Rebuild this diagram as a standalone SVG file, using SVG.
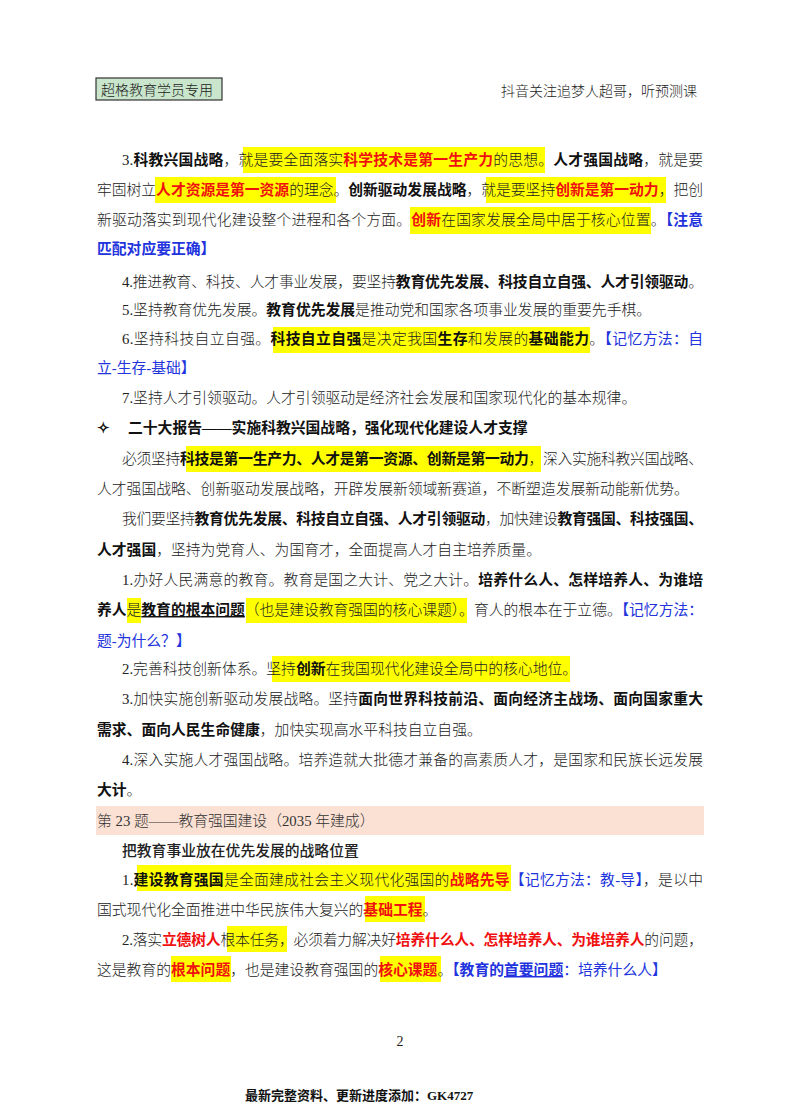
<svg xmlns="http://www.w3.org/2000/svg" width="800" height="1114" viewBox="0 0 800 1114">
<style>
text{font-family:"Liberation Serif","Noto Sans CJK SC",serif;font-size:14.8px;fill:#222;font-weight:300}
.b{font-weight:700;fill:#111}
.r{font-weight:700;fill:#f01010}
.bl{fill:#2233dd;font-weight:400}
.blb{fill:#2233dd;font-weight:700}
.u{text-decoration:underline}
.hl{fill:#ffff00}
</style>
<rect width="800" height="1114" fill="#fff"/>
<g id="header">
<rect x="96" y="78" width="126" height="22" fill="#c9e6cc" stroke="#333" stroke-width="1.2"/>
<text x="101" y="95" style="font-size:14px">超格教育学员专用</text>
<text x="697" y="96" text-anchor="end" style="font-size:14px">抖音关注追梦人超哥，听预测课</text>
</g>
<g id="highlights">
<rect class="hl" x="243" y="147" width="302" height="26"/>
<rect class="hl" x="155" y="177" width="181" height="26"/>
<rect class="hl" x="486" y="177" width="180" height="26"/>
<rect class="hl" x="410" y="207" width="241" height="27"/>
<rect class="hl" x="273" y="327" width="317" height="26"/>
<rect class="hl" x="186" y="446" width="355" height="26"/>
<rect class="hl" x="127" y="598" width="14" height="25"/>
<rect class="hl" x="246" y="598" width="221" height="25"/>
<rect class="hl" x="272" y="656" width="298" height="26"/>
<rect x="96" y="806" width="608" height="29" fill="#fbe1d3"/>
<rect class="hl" x="137" y="865" width="374" height="26"/>
<rect class="hl" x="365" y="896" width="60" height="26"/>
<rect class="hl" x="227" y="926" width="60" height="26"/>
<rect class="hl" x="171" y="956" width="60" height="26"/>
<rect class="hl" x="380" y="956" width="61" height="26"/>
</g>
<g id="body">
<text x="122" y="165" textLength="581" lengthAdjust="spacing">3.<tspan class="b">科教兴国战略</tspan>，就是要全面落实<tspan class="r">科学技术是第一生产力</tspan>的思想。<tspan class="b">人才强国战略</tspan>，就是要</text>
<text x="97" y="195" textLength="606" lengthAdjust="spacing">牢固树立<tspan class="r">人才资源是第一资源</tspan>的理念。<tspan class="b">创新驱动发展战略</tspan>，就是要坚持<tspan class="r">创新是第一动力</tspan>，把创</text>
<text x="97" y="225" textLength="606" lengthAdjust="spacing">新驱动落实到现代化建设整个进程和各个方面。<tspan class="r">创新</tspan>在国家发展全局中居于核心位置。<tspan class="blb">【注意</tspan></text>
<text x="97" y="254" class="blb">匹配对应要正确】</text>
<text x="122" y="287" textLength="581" lengthAdjust="spacing">4.推进教育、科技、人才事业发展，要坚持<tspan class="b">教育优先发展、科技自立自强、人才引领驱动</tspan>。</text>
<text x="122" y="315">5.坚持教育优先发展。<tspan class="b">教育优先发展</tspan>是推动党和国家各项事业发展的重要先手棋。</text>
<text x="122" y="344" textLength="581" lengthAdjust="spacing">6.坚持科技自立自强。<tspan class="b">科技自立自强</tspan>是决定我国<tspan class="b">生存</tspan>和发展的<tspan class="b">基础能力</tspan>。<tspan class="bl">【记忆方法：自</tspan></text>
<text x="97" y="373" class="bl">立-生存-基础】</text>
<text x="122" y="403">7.坚持人才引领驱动。人才引领驱动是经济社会发展和国家现代化的基本规律。</text>
<text x="97" y="433" class="b">✧</text>
<text x="128" y="433" class="b">二十大报告——实施科教兴国战略，强化现代化建设人才支撑</text>
<text x="122" y="464" textLength="581" lengthAdjust="spacing">必须坚持<tspan class="b">科技是第一生产力、人才是第一资源、创新是第一动力</tspan>，深入实施科教兴国战略、</text>
<text x="97" y="494">人才强国战略、创新驱动发展战略，开辟发展新领域新赛道，不断塑造发展新动能新优势。</text>
<text x="122" y="524" textLength="581" lengthAdjust="spacing">我们要坚持<tspan class="b">教育优先发展、科技自立自强、人才引领驱动</tspan>，加快建设<tspan class="b">教育强国、科技强国、</tspan></text>
<text x="97" y="555"><tspan class="b">人才强国</tspan>，坚持为党育人、为国育才，全面提高人才自主培养质量。</text>
<text x="122" y="585" textLength="581" lengthAdjust="spacing">1.办好人民满意的教育。教育是国之大计、党之大计。<tspan class="b">培养什么人、怎样培养人、为谁培</tspan></text>
<text x="97" y="615" textLength="606" lengthAdjust="spacing"><tspan class="b">养人</tspan>是<tspan class="b u">教育的根本问题</tspan>（也是建设教育强国的核心课题）。育人的根本在于立德。<tspan class="bl">【记忆方法：</tspan></text>
<text x="97" y="646" class="bl">题-为什么？】</text>
<text x="122" y="674">2.完善科技创新体系。坚持<tspan class="b">创新</tspan>在我国现代化建设全局中的核心地位。</text>
<text x="122" y="704" textLength="581" lengthAdjust="spacing">3.加快实施创新驱动发展战略。坚持<tspan class="b">面向世界科技前沿、面向经济主战场、面向国家重大</tspan></text>
<text x="97" y="735"><tspan class="b">需求、面向人民生命健康</tspan>，加快实现高水平科技自立自强。</text>
<text x="122" y="765" textLength="581" lengthAdjust="spacing">4.深入实施人才强国战略。培养造就大批德才兼备的高素质人才，是国家和民族长远发展</text>
<text x="97" y="795"><tspan class="b">大计</tspan>。</text>
<text x="97" y="826" style="fill:#333">第 23 题——教育强国建设（2035 年建成）</text>
<text x="122" y="856" style="font-weight:500">把教育事业放在优先发展的战略位置</text>
<text x="122" y="885" textLength="581" lengthAdjust="spacing">1.<tspan class="b">建设教育强国</tspan>是全面建成社会主义现代化强国的<tspan class="r">战略先导</tspan><tspan class="bl">【记忆方法：教-导】</tspan>，是以中</text>
<text x="97" y="915">国式现代化全面推进中华民族伟大复兴的<tspan class="r">基础工程</tspan>。</text>
<text x="122" y="945" textLength="581" lengthAdjust="spacing">2.落实<tspan class="r">立德树人</tspan>根本任务，必须着力解决好<tspan class="r">培养什么人、怎样培养人、为谁培养人</tspan>的问题，</text>
<text x="97" y="975">这是教育的<tspan class="r">根本问题</tspan>，也是建设教育强国的<tspan class="r">核心课题</tspan>。<tspan class="blb">【教育的</tspan><tspan class="blb u">首要问题</tspan><tspan class="bl">：培养什么人】</tspan></text>
</g>
<g id="footer">
<text x="400" y="1046" text-anchor="middle" style="font-size:14px">2</text>
<text x="245" y="1100" class="b" style="font-size:13px">最新完整资料、更新进度添加：GK4727</text>
</g>
</svg>
